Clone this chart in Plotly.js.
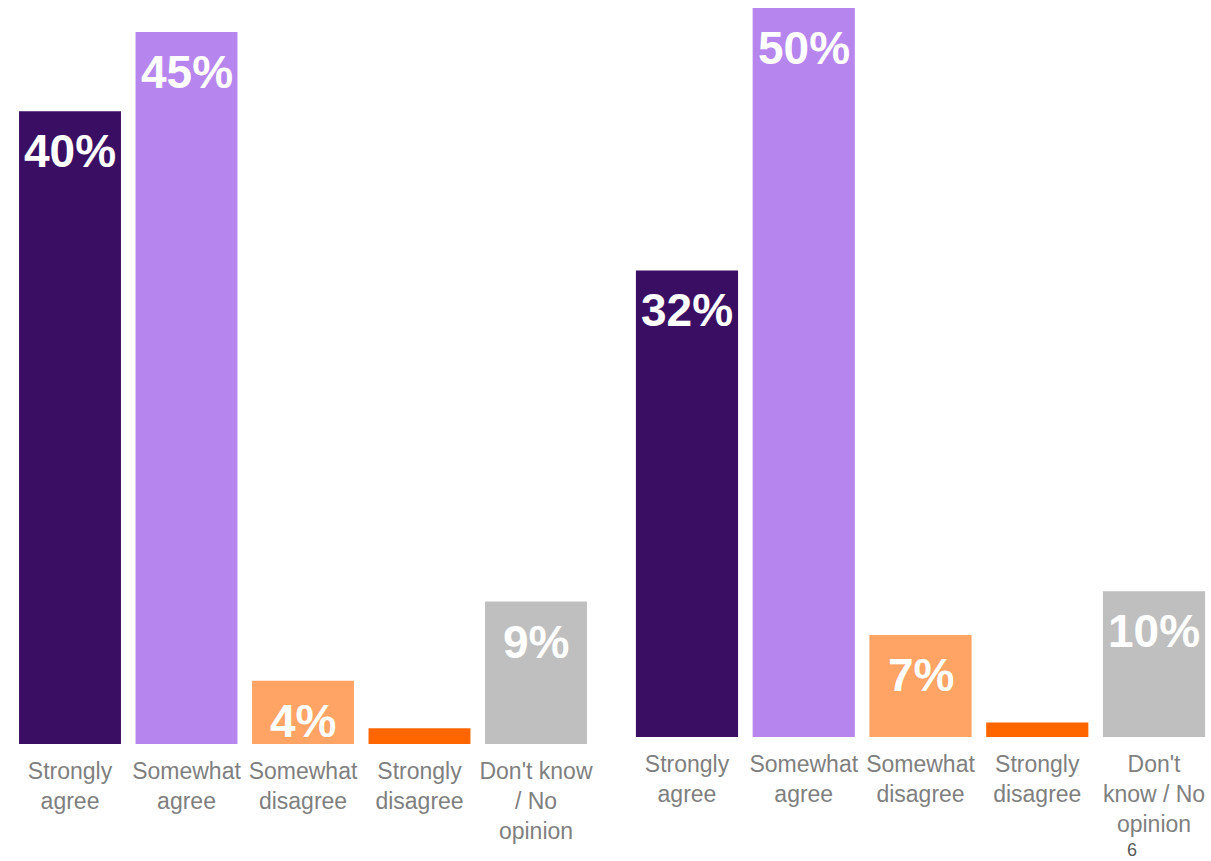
<!DOCTYPE html>
<html>
<head>
<meta charset="utf-8">
<script src="https://cdn.plot.ly/plotly-3.0.1.min.js"></script>
<style>html,body{margin:0;padding:0;background:#fff;}#chart{width:1211px;height:861px;}</style>
</head>
<body>
<div id="chart"></div>
<script>
const categories = ['Strongly agree', 'Somewhat agree', 'Somewhat disagree', 'Strongly disagree', "Don't know / No opinion"];
const tickLabelsLeft = ['Strongly<br>agree', 'Somewhat<br>agree', 'Somewhat<br>disagree', 'Strongly<br>disagree', "Don't know<br>/ No<br>opinion"];
const tickLabelsRight = ['Strongly<br>agree', 'Somewhat<br>agree', 'Somewhat<br>disagree', 'Strongly<br>disagree', "Don't<br>know / No<br>opinion"];
const valuesLeft = [40, 45, 4, 1, 9];
const valuesRight = [32, 50, 7, 1, 10];
const barColors = ['#3A0F63', '#B685EE', '#FFA464', '#FF6600', '#BFBFBF'];
const pageNumber = '6';

const labelFont = {family: 'Liberation Sans, Arial, sans-serif', size: 46, color: '#FFFFFF'};

function valueAnnotations(values, xref, yref) {
  return values.map((v, i) => v >= 2 ? {
    x: categories[i], y: v, xref: xref, yref: yref,
    text: '<b>' + v + '%</b>', showarrow: false,
    yanchor: 'top', xanchor: 'center', yshift: -12,
    font: labelFont
  } : null).filter(a => a);
}

const traces = [
  {type: 'bar', x: categories, y: valuesLeft, marker: {color: barColors}, xaxis: 'x', yaxis: 'y', hoverinfo: 'none'},
  {type: 'bar', x: categories, y: valuesRight, marker: {color: barColors}, xaxis: 'x2', yaxis: 'y2', hoverinfo: 'none'}
];

const axisFont = {family: 'Liberation Sans, Arial, sans-serif', size: 23, color: '#7F7F7F'};
const W = 1211, H = 861;

const layout = {
  width: W, height: H,
  margin: {l: 0, r: 0, t: 0, b: 0},
  paper_bgcolor: '#FFFFFF', plot_bgcolor: 'rgba(0,0,0,0)',
  showlegend: false,
  bargap: 0.125,
  xaxis: {domain: [11.75 / W, 594.25 / W], type: 'category', range: [-0.5, 4.5],
    tickvals: categories, ticktext: tickLabelsLeft, tickfont: axisFont, ticklabelstandoff: 11,
    showline: false, showgrid: false, zeroline: false, ticks: '', anchor: 'y'},
  yaxis: {domain: [(H - 744) / H, 1], range: [0, 744 / 15.82], visible: false, anchor: 'x'},
  xaxis2: {domain: [628.6 / W, 1], type: 'category', range: [-0.5, 4.488],
    tickvals: categories, ticktext: tickLabelsRight, tickfont: axisFont, ticklabelstandoff: 11,
    showline: false, showgrid: false, zeroline: false, ticks: '', anchor: 'y2'},
  yaxis2: {domain: [(H - 737) / H, 1], range: [0, 737 / 14.58], visible: false, anchor: 'x2'},
  annotations: valueAnnotations(valuesLeft, 'x', 'y')
    .concat(valueAnnotations(valuesRight, 'x2', 'y2'))
    .concat([{x: 1132 / W, y: 0, xref: 'paper', yref: 'paper', yanchor: 'bottom', xanchor: 'center', yshift: -1,
      text: pageNumber, showarrow: false, font: {family: 'Liberation Sans, Arial, sans-serif', size: 18, color: '#595959'}}])
};

Plotly.newPlot('chart', traces, layout, {displayModeBar: false, staticPlot: true});
</script>
</body>
</html>
